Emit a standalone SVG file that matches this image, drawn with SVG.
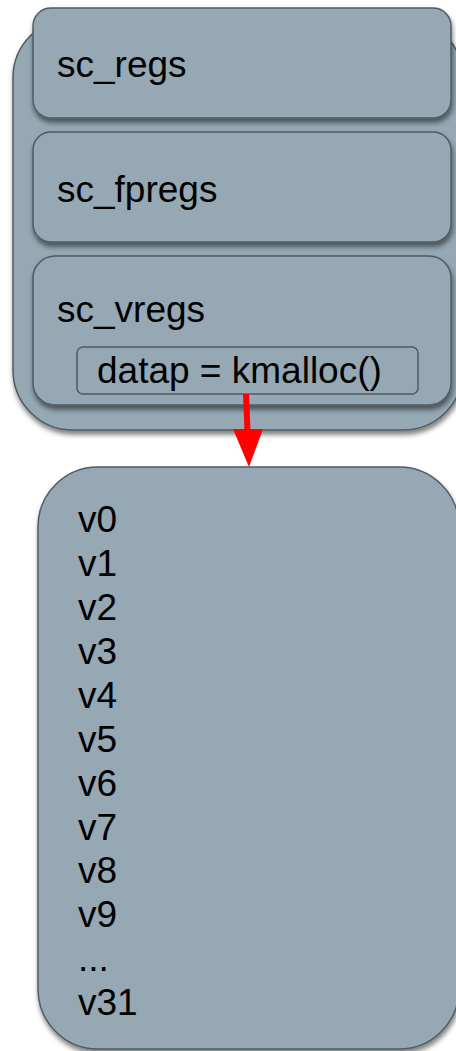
<svg xmlns="http://www.w3.org/2000/svg" width="456" height="1051" viewBox="0 0 456 1051">
  <style>
    .box { fill: #95a8b3; stroke: #4f5b65; stroke-width: 1.5; }
    .lbl { font-family: "Liberation Sans", Arial, sans-serif; font-size: 37px; fill: #000; }
    .arrow { stroke: #ff0000; stroke-width: 6; }
    .head { fill: #ff0000; }
  </style>
  <defs>
    <filter id="sh" x="-10%" y="-10%" width="130%" height="130%">
      <feDropShadow dx="1" dy="4" stdDeviation="2.5" flood-color="#000" flood-opacity="0.5"/>
    </filter>
  </defs>

  <g id="outer">
    <rect class="box" x="13" y="18" width="450" height="412" rx="60" ry="60" filter="url(#sh)"/>
  </g>
  <g id="sc_regs">
    <rect class="box" x="33" y="8" width="418" height="110" rx="18" ry="18" filter="url(#sh)"/>
    <text class="lbl" x="57" y="77">sc_regs</text>
  </g>
  <g id="sc_fpregs">
    <rect class="box" x="33" y="132" width="418" height="110" rx="18" ry="18" filter="url(#sh)"/>
    <text class="lbl" x="57" y="202">sc_fpregs</text>
  </g>
  <g id="sc_vregs">
    <rect class="box" x="33" y="256" width="418" height="149" rx="22" ry="22" filter="url(#sh)"/>
    <text class="lbl" x="57" y="322">sc_vregs</text>
  </g>
  <g id="datap">
    <rect class="box" x="77" y="347" width="341" height="47" rx="6" ry="6"/>
    <text class="lbl" x="97" y="383">datap = kmalloc()</text>
  </g>
  <g id="vregs_data">
    <rect class="box" x="38" y="467" width="421" height="582" rx="60" ry="60" filter="url(#sh)"/>
    <text class="lbl" x="78" y="532">v0</text>
    <text class="lbl" x="78" y="576">v1</text>
    <text class="lbl" x="78" y="620">v2</text>
    <text class="lbl" x="78" y="664">v3</text>
    <text class="lbl" x="78" y="708">v4</text>
    <text class="lbl" x="78" y="752">v5</text>
    <text class="lbl" x="78" y="796">v6</text>
    <text class="lbl" x="78" y="840">v7</text>
    <text class="lbl" x="78" y="883">v8</text>
    <text class="lbl" x="78" y="927">v9</text>
    <text class="lbl" x="78" y="971">...</text>
    <text class="lbl" x="78" y="1015">v31</text>
  </g>
  <g id="connectors">
    <line class="arrow" x1="246" y1="394" x2="247.5" y2="431"/>
    <path class="head" d="M233,429 L263,429 L249,467 Z"/>
  </g>
</svg>
